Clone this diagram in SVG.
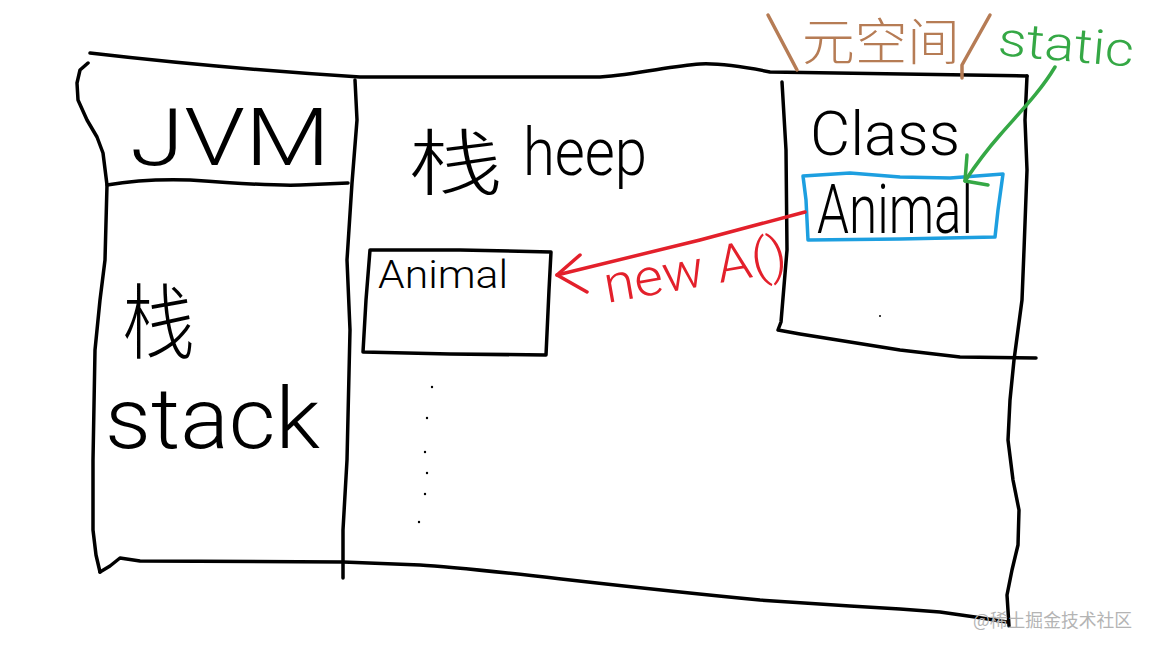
<svg xmlns="http://www.w3.org/2000/svg" width="1152" height="648" viewBox="0 0 1152 648">
  <style>
    .ink { fill: none; stroke: #000; stroke-width: 3.5; stroke-linecap: round; stroke-linejoin: round; }
    .hw { font-family: Roboto, "Open Sans", "Liberation Sans", "Noto Sans CJK SC", sans-serif; font-weight: 300; fill: #000; }
    .cjk { font-family: "Noto Sans CJK SC", "Noto Sans CJK JP", sans-serif; font-weight: 300; fill: #000; }
    .red { stroke: #e3202b; }
    .green { stroke: #35a845; }
    .brown { stroke: #b67c55; }
    .blue { stroke: #1d9fe0; }
  </style>
  <rect width="1152" height="648" fill="#fff"/>

  <g id="frame">
    <path class="ink" d="M90,53 C150,60 250,70 360,77 L600,77 C640,74 670,66 700,64 C720,63 745,67 770,72 L1027,76"/>
    <path class="ink" d="M1027,76 L1025,120 L1027,170 L1024,250 L1022,300 L1018,330 L1014,360 L1010,400 L1008,440 L1013,480 L1019,510 L1018,545 L1012,570 L1007,595 L1009,626"/>
    <path class="ink" d="M1007,622 L975,617 L940,612 L900,609 L850,606 L760,600 C600,585 480,568 420,565 L343,562 L140,561 L120,558 L110,566 L100,572"/>
    <path class="ink" d="M100,572 L96,555 L93,530 L93,460 L95,350 L100,300 L105,260 L107,185 L103,153 L97,137 L87,120 L78,100 L77,83 L80,70 L88,63"/>
  </g>

  <g id="jvm">
    <path class="ink" d="M107,185 C130,181 160,179 190,180 C230,183 270,186 300,185 L348,183"/>
    <path class="ink" d="M355,80 L357,120 L352,183 L347,260 L350,330 L347,460 L343,530 L343,578"/>
    <text class="hw" x="130" y="165" font-size="80" textLength="200" lengthAdjust="spacingAndGlyphs">JVM</text>
  </g>

  <g id="stack">
    <text class="cjk" x="122" y="352" font-size="82" textLength="73" lengthAdjust="spacingAndGlyphs">栈</text>
    <text class="hw" x="105" y="448" font-size="85" textLength="215" lengthAdjust="spacingAndGlyphs">stack</text>
  </g>

  <g id="heap">
    <text class="cjk" x="408" y="189" font-size="72" textLength="95" lengthAdjust="spacingAndGlyphs">栈</text>
    <text class="hw" x="523" y="175" font-size="66" textLength="124" lengthAdjust="spacingAndGlyphs">heep</text>
    <g fill="#000">
      <circle cx="432" cy="387" r="1.2"/>
      <circle cx="427" cy="418" r="1.2"/>
      <circle cx="425" cy="452" r="1.2"/>
      <circle cx="427" cy="473" r="1.2"/>
      <circle cx="425" cy="494" r="1.2"/>
      <circle cx="419" cy="522" r="1.2"/>
    </g>
  </g>

  <g id="heap-animal">
    <path class="ink" d="M370,250 L460,250 L551,252 L549,290 L546,355 L450,354 L363,352 L366,300 Z"/>
    <text class="hw" x="378" y="288" font-size="38" textLength="130" lengthAdjust="spacingAndGlyphs">Animal</text>
  </g>

  <g id="metaspace">
    <path class="ink" d="M782,82 L786,150 L787,250 L781,322 L778,330 L800,334 L850,342 L900,350 L960,357 L1036,358"/>
    <path class="ink brown" d="M768,15 L797,70"/>
    <path class="ink brown" d="M990,15 L962,65 L962,78"/>
    <text class="cjk" x="802" y="60" font-size="50" style="fill:#b67c55" textLength="158" lengthAdjust="spacingAndGlyphs">元空间</text>
    <text class="hw" x="810" y="155" font-size="62" textLength="150" lengthAdjust="spacingAndGlyphs">Class</text>
    <circle cx="880" cy="316" r="1" fill="#000"/>
  </g>

  <g id="class-animal">
    <path class="ink blue" stroke-width="3" d="M803,176 L850,173 L900,177 L950,178 L1003,174 L998,210 L995,237 L900,239 L808,240 L806,200 Z"/>
    <text class="hw" x="817" y="233" font-size="68" textLength="156" lengthAdjust="spacingAndGlyphs">Animal</text>
  </g>

  <g id="static-label">
    <text class="hw" x="997" y="55" font-size="48" style="fill:#35a845" transform="rotate(5 997 55)" textLength="136" lengthAdjust="spacingAndGlyphs">static</text>
  </g>

  <g id="connectors">
    <path class="ink red" stroke-width="3" d="M805,212 L700,240 L557,275"/>
    <path class="ink red" stroke-width="3" d="M580,255 L557,275 L587,292"/>
    <text class="hw" x="607" y="303" font-size="52" style="fill:#e3202b" transform="rotate(-10 607 303)" textLength="185" lengthAdjust="spacingAndGlyphs">new A()</text>
    <path class="ink green" stroke-width="3" d="M1055,67 C1040,92 1020,112 1000,135 C985,152 975,166 965,181"/>
    <path class="ink green" stroke-width="3" d="M967,155 L965,181 L988,185"/>
  </g>

  <text x="973" y="627" font-family="Noto Sans CJK SC, sans-serif" font-size="18" fill="#b4b4b4" textLength="159" lengthAdjust="spacingAndGlyphs">@稀土掘金技术社区</text>
</svg>
